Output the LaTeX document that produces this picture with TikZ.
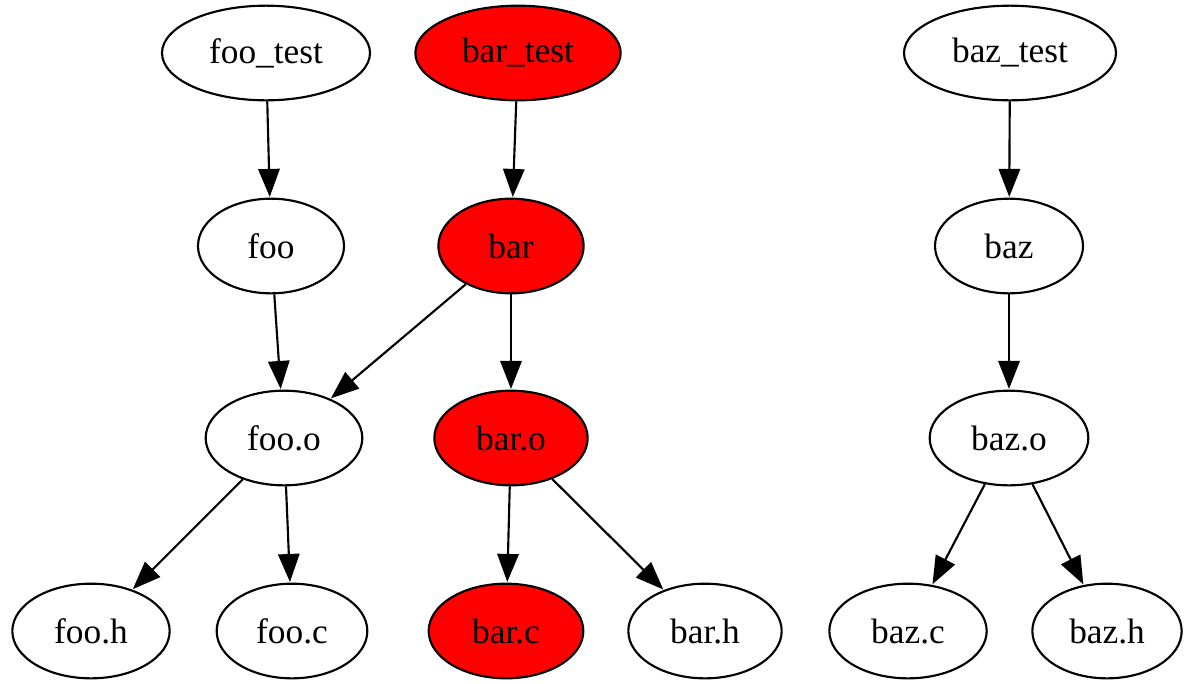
\documentclass[tikz,border=0pt]{standalone}
\usepackage{fontspec}
\setmainfont{Liberation Serif}
\usetikzlibrary{shapes.geometric,arrows.meta}

\begin{document}
\begin{tikzpicture}[x=0.75pt,y=-0.75pt,
  gnode/.style={ellipse, draw=black, line width=1.6pt, inner sep=0pt,
    minimum height=71pt, font=\fontsize{26.5}{30}\selectfont},
  hot/.style={gnode, fill=red},
  dep/.style={-{Triangle[length=21pt,width=16pt]}, line width=1.6pt, shorten >=0.5pt}]

  \useasboundingbox (0,0) rectangle (1184,683);

  % top row: test targets
  \node[gnode, minimum width=156pt] (footest) at (266,53) {foo\_test};
  \node[hot,   minimum width=154pt] (bartest) at (518,53) {bar\_test};
  \node[gnode, minimum width=159pt] (baztest) at (1010,53) {baz\_test};

  % libraries
  \node[gnode, minimum width=109.5pt] (foo) at (271,246) {foo};
  \node[hot,   minimum width=109pt]   (bar) at (511,246) {bar};
  \node[gnode, minimum width=111pt]   (baz) at (1009,246) {baz};

  % object files
  \node[gnode, minimum width=117.5pt] (fooo) at (284,438) {foo.o};
  \node[hot,   minimum width=115pt]   (baro) at (511,438) {bar.o};
  \node[gnode, minimum width=119pt]   (bazo) at (1009,438) {baz.o};

  % sources and headers
  \node[gnode, minimum width=118pt] (fooh) at (91,631) {foo.h};
  \node[gnode, minimum width=113pt] (fooc) at (292,631) {foo.c};
  \node[hot,   minimum width=116pt] (barc) at (506,631) {bar.c};
  \node[gnode, minimum width=115pt] (barh) at (705,631) {bar.h};
  \node[gnode, minimum width=118pt] (bazc) at (908,631) {baz.c};
  \node[gnode, minimum width=112pt] (bazh) at (1107,631) {baz.h};

  % dependencies
  \draw[dep] (footest) -- (foo);
  \draw[dep] (foo) -- (fooo);
  \draw[dep] (bartest) -- (bar);
  \draw[dep] (bar) -- (fooo);
  \draw[dep] (bar) -- (baro);
  \draw[dep] (fooo) -- (fooh);
  \draw[dep] (fooo) -- (fooc);
  \draw[dep] (baro) -- (barc);
  \draw[dep] (baro) -- (barh);
  \draw[dep] (baztest) -- (baz);
  \draw[dep] (baz) -- (bazo);
  \draw[dep] (bazo) -- (bazc);
  \draw[dep] (bazo) -- (bazh);
\end{tikzpicture}
\end{document}
